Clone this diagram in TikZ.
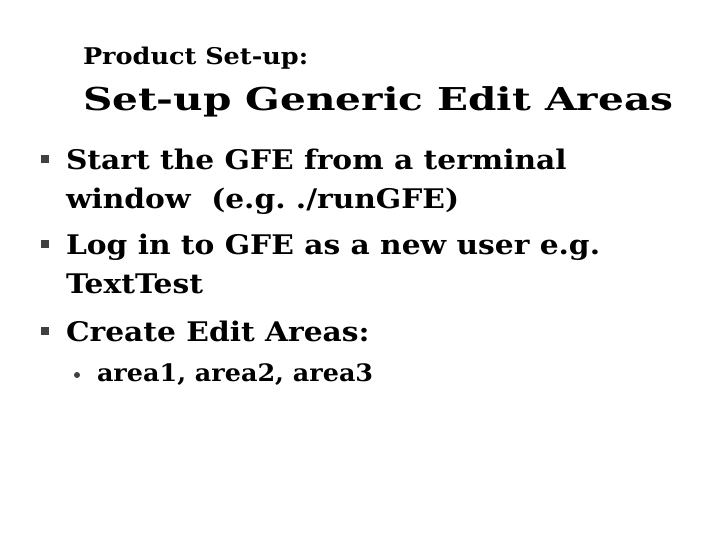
\documentclass[tikz,border=0pt]{standalone}
\usepackage{fontspec}
\setmainfont{DejaVu Serif}
\usepackage{tikz}

\begin{document}
\begin{tikzpicture}[x=1pt,y=1pt,
  txt/.style={text=drawColor,anchor=base west,inner sep=0pt,outer sep=0pt},
  subHead/.style={txt,font=\bfseries\fontsize{23}{27}\selectfont},
  mainHead/.style={txt,font=\bfseries\fontsize{31.5}{36}\selectfont},
  itemText/.style={txt,font=\bfseries\fontsize{27}{32}\selectfont},
  subItemText/.style={txt,font=\bfseries\fontsize{24}{28}\selectfont},
  bulletSq/.style={fill=bulletColor,draw=none,minimum size=8pt,inner sep=0pt},
  bulletDot/.style={circle,fill=bulletColor,draw=none,minimum size=6pt,inner sep=0pt}]
\definecolor{fillColor}{RGB}{255,255,255}
\definecolor{drawColor}{RGB}{0,0,0}
\definecolor{bulletColor}{RGB}{64,64,64}
\path[use as bounding box,fill=fillColor] (0,0) rectangle (720,540);

% heading
\node[subHead] (sub) at ( 83.00,475.00) {\scalebox{1.11}[1]{Product Set-up:}};
\node[mainHead] (title) at ( 83.00,429.00) {\scalebox{1.29}[1]{Set-up Generic Edit Areas}};

% first level items
\node[itemText] (start) at ( 66.00,370.50) {\scalebox{1.10}[1]{Start the GFE from a terminal}};
\node[itemText] (startb) at ( 66.00,331.50) {\scalebox{1.10}[1]{window\ \ (e.g.\ ./runGFE)}};
\node[itemText] (login) at ( 66.00,285.50) {\scalebox{1.10}[1]{Log in to GFE as a new user e.g.}};
\node[itemText] (loginb) at ( 66.00,246.50) {\scalebox{1.10}[1]{TextTest}};
\node[itemText] (create) at ( 66.00,198.50) {\scalebox{1.10}[1]{Create Edit Areas:}};
\node[bulletSq] (sqa) at ( 45.00,380.50) {};
\node[bulletSq] (sqb) at ( 45.00,295.50) {};
\node[bulletSq] (sqc) at ( 45.00,208.50) {};

% second level item
\node[subItemText] (areas) at ( 97.00,158.50) {\scalebox{1.06}[1]{area1, area2, area3}};
\node[bulletDot] (dot) at ( 77.00,165.00) {};
\end{tikzpicture}
\end{document}
